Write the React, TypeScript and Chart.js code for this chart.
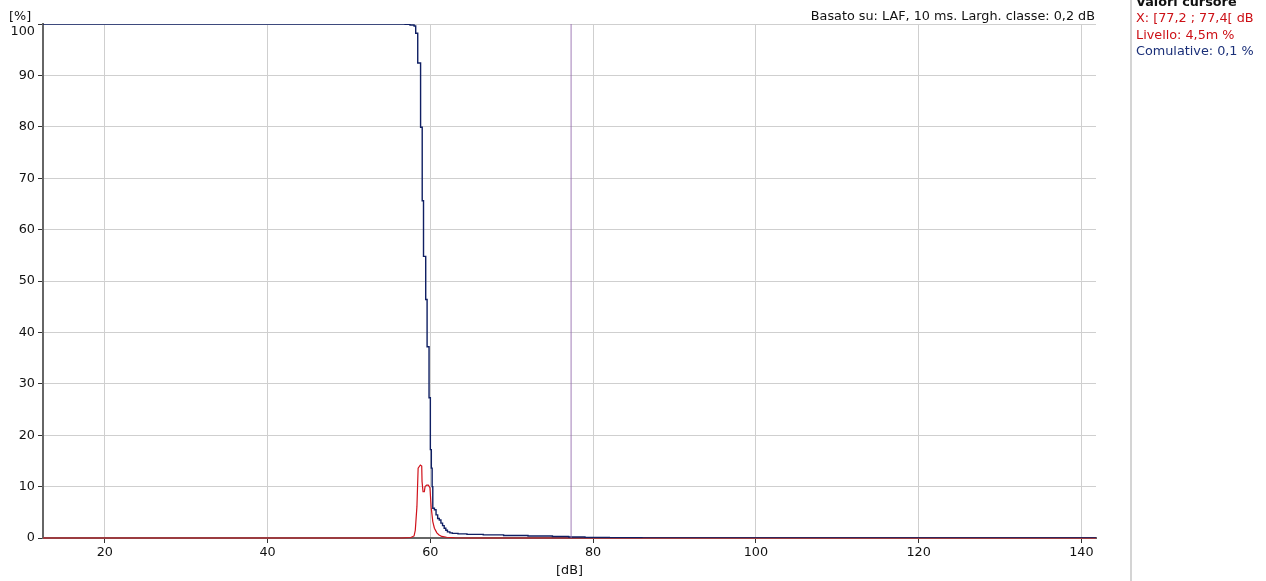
import React, { useEffect, useRef } from "react";
import { Chart, registerables } from "chart.js";

Chart.register(...registerables);

// ---- data ----
const xTicks = [20, 40, 60, 80, 100, 120, 140];
const yTicks = [0, 10, 20, 30, 40, 50, 60, 70, 80, 90, 100];
const xMin = 12.4;
const xMax = 141.8;

// Cumulative distribution (% of time at or above the level), stepped
const cumulativeX = [12.4, 56.9, 57.5, 58.0, 58.2, 58.45, 58.8, 59.0, 59.16, 59.43, 59.6, 59.84, 60.0, 60.12, 60.22, 60.3, 60.5, 60.7, 60.9, 61.1, 61.3, 61.5, 61.7, 61.9, 62.1, 62.4, 62.7, 63.4, 64.5, 66.5, 69.0, 72.0, 75.0, 77.0, 79.0, 82.0, 86.0, 90.0, 141.8];
const cumulativeY = [100, 99.95, 99.8, 99.6, 98.2, 92.4, 79.9, 65.6, 54.8, 46.4, 37.2, 27.3, 17.2, 13.6, 10.0, 5.8, 5.5, 4.5, 3.8, 3.5, 2.9, 2.4, 1.9, 1.5, 1.2, 1.0, 0.9, 0.8, 0.7, 0.6, 0.5, 0.4, 0.3, 0.2, 0.1, 0.05, 0.02, 0, 0];

// Level distribution (% of time in each 0.2 dB class)
const livelloX = [12.4, 56.5, 57.6, 58.0, 58.15, 58.35, 58.5, 58.77, 58.94, 58.98, 59.1, 59.26, 59.35, 59.55, 59.75, 59.95, 60.1, 60.3, 60.5, 60.8, 61.07, 61.4, 62.0, 63.0, 65.0, 141.8];
const livelloY = [0, 0, 0.1, 0.4, 1.5, 6.1, 13.6, 14.2, 14.0, 11.0, 9.0, 9.0, 10.0, 10.3, 10.3, 9.8, 6.0, 3.2, 1.9, 1.0, 0.6, 0.3, 0.15, 0.05, 0, 0];

// Cursor class [77,2 ; 77,4[
const cursorX = [77.3, 77.3];
const cursorY = [0, 100];

const FONT = "'DejaVu Sans', Verdana, sans-serif";
const FS = 12.8;
const NAVY = "#0f1f63";
const RED = "#d0121b";

const pts = (xs: number[], ys: number[]) => xs.map((x, i) => ({ x, y: ys[i] }));

export default function App() {
  const ref = useRef<HTMLCanvasElement | null>(null);

  useEffect(() => {
    document.body.style.margin = "0";
    document.body.style.overflow = "hidden";
    const canvas = ref.current;
    if (!canvas) return;
    Chart.defaults.font.family = FONT;
    Chart.defaults.font.size = FS;
    const chart = new Chart(canvas, {
      type: "line",
      data: {
        datasets: [
          {
            label: "Cursore",
            data: pts(cursorX, cursorY),
            borderColor: "rgba(150,110,175,0.6)",
            borderWidth: 1.5,
            pointRadius: 0,
          },
          {
            label: "Cumulative",
            data: pts(cumulativeX, cumulativeY),
            borderColor: NAVY,
            borderWidth: 1.4,
            pointRadius: 0,
            stepped: true,
          },
          {
            label: "Livello",
            data: pts(livelloX, livelloY),
            borderColor: RED,
            borderWidth: 1.2,
            pointRadius: 0,
            clip: { left: 0, top: 0, right: 0, bottom: 1 } as any,
          },
        ],
      },
      options: {
        animation: false,
        responsive: false,
        layout: { padding: { left: 0, right: 170, top: 24, bottom: 0 } },
        plugins: {
          legend: { display: false },
          tooltip: { enabled: false },
          title: { display: false },
        },
        scales: {
          x: {
            type: "linear",
            min: xMin,
            max: xMax,
            afterBuildTicks: (axis: any) => {
              axis.ticks = xTicks.map((v) => ({ value: v }));
            },
            afterFit: (s: any) => {
              s.height = 43;
            },
            grid: {
              color: "#cfcfcf",
              lineWidth: 1,
              tickColor: "#333",
              tickLength: 5,
              drawTicks: true,
            },
            border: { display: true, color: "#666", width: 2 },
            ticks: {
              color: "#111",
              font: { size: FS, family: FONT },
              padding: 2,
              maxRotation: 0,
              autoSkip: false,
              callback: (v: any) => String(v),
            },
            title: {
              display: true,
              text: "[dB]",
              color: "#111",
              font: { size: FS, family: FONT },
              padding: { top: 0, bottom: 3 },
            },
          },
          y: {
            type: "linear",
            min: 0,
            max: 100,
            afterBuildTicks: (axis: any) => {
              axis.ticks = yTicks.map((v) => ({ value: v }));
            },
            afterFit: (s: any) => {
              s.width = 43;
            },
            grid: {
              color: "#cfcfcf",
              lineWidth: 1,
              tickColor: "#333",
              tickLength: 5,
              drawTicks: true,
            },
            border: { display: true, color: "#666", width: 2 },
            ticks: {
              color: "#111",
              font: { size: FS, family: FONT },
              padding: 3,
              autoSkip: false,
              callback: (v: any) => (v === 100 ? ["", "100"] : String(v)),
            },
          },
        },
      },
    });
    return () => chart.destroy();
  }, []);

  const txt: React.CSSProperties = {
    position: "absolute",
    fontFamily: FONT,
    fontSize: FS,
    lineHeight: "15px",
    whiteSpace: "nowrap",
    color: "#111",
  };

  return (
    <div style={{ position: "absolute", left: 0, top: 0, width: 1266, height: 581, overflow: "hidden", background: "#fff" }}>
      <canvas ref={ref} width={1266} height={581} style={{ position: "absolute", left: 0, top: 0, width: 1266, height: 581 }} />
      <div style={{ ...txt, left: 9, top: 8 }}>[%]</div>
      <div style={{ ...txt, right: 171, top: 8 }}>Basato su: LAF, 10 ms. Largh. classe: 0,2 dB</div>
      <div style={{ position: "absolute", left: 1130, top: 0, width: 2, height: 581, background: "#d4d4d4" }} />
      <div style={{ ...txt, left: 1136, top: -6.5, fontWeight: "bold" }}>Valori cursore</div>
      <div style={{ ...txt, left: 1136, top: 10, color: "#cc1016" }}>X: [77,2 ; 77,4[ dB</div>
      <div style={{ ...txt, left: 1136, top: 26.5, color: "#cc1016" }}>Livello: 4,5m %</div>
      <div style={{ ...txt, left: 1136, top: 43, color: "#1a2f78" }}>Comulative: 0,1 %</div>
    </div>
  );
}
